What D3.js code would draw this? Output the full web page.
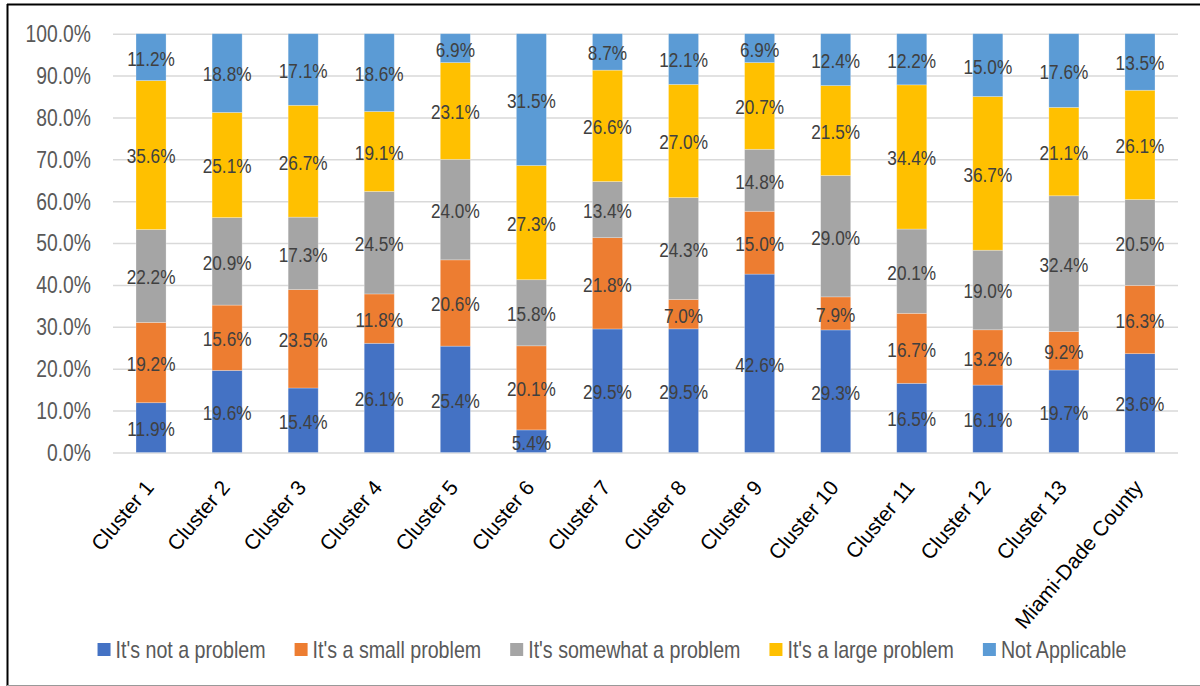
<!DOCTYPE html>
<html>
<head>
<meta charset="utf-8">
<script src="https://cdn.jsdelivr.net/npm/d3@7"></script>
<style>
  html, body { margin: 0; padding: 0; background: #fff; }
  svg { display: block; }
  text { font-family: "Liberation Sans", Arial, sans-serif; }
</style>
</head>
<body>
<svg id="chart" width="1200" height="686"></svg>
<script>
// Survey responses by cluster, percent of respondents
const categories = ["Cluster 1", "Cluster 2", "Cluster 3", "Cluster 4", "Cluster 5", "Cluster 6", "Cluster 7",
  "Cluster 8", "Cluster 9", "Cluster 10", "Cluster 11", "Cluster 12", "Cluster 13", "Miami-Dade County"];
const seriesNames = ["It's not a problem", "It's a small problem", "It's somewhat a problem", "It's a large problem", "Not Applicable"];
const notProblem   = [11.9, 19.6, 15.4, 26.1, 25.4, 5.4, 29.5, 29.5, 42.6, 29.3, 16.5, 16.1, 19.7, 23.6];
const smallProblem = [19.2, 15.6, 23.5, 11.8, 20.6, 20.1, 21.8, 7.0, 15.0, 7.9, 16.7, 13.2, 9.2, 16.3];
const somewhat     = [22.2, 20.9, 17.3, 24.5, 24.0, 15.8, 13.4, 24.3, 14.8, 29.0, 20.1, 19.0, 32.4, 20.5];
const largeProblem = [35.6, 25.1, 26.7, 19.1, 23.1, 27.3, 26.6, 27.0, 20.7, 21.5, 34.4, 36.7, 21.1, 26.1];
const notApplicable = [11.2, 18.8, 17.1, 18.6, 6.9, 31.5, 8.7, 12.1, 6.9, 12.4, 12.2, 15.0, 17.6, 13.5];
const yTicks = [0, 10, 20, 30, 40, 50, 60, 70, 80, 90, 100];
const colors = ["#4472C4", "#ED7D31", "#A5A5A5", "#FFC000", "#5B9BD5"];

const seriesValues = [notProblem, smallProblem, somewhat, largeProblem, notApplicable];
const rows = categories.map((c, i) => {
  const r = { category: c };
  seriesNames.forEach((s, k) => { r[s] = seriesValues[k][i]; });
  return r;
});

const svg = d3.select("#chart");
const W = 1200, H = 686;
const NARROW = 0.84; // horizontal squeeze for the condensed label face

// chart frame
svg.append("line").attr("x1", 7.5).attr("x2", 7.5).attr("y1", 4).attr("y2", H).attr("stroke", "#000").attr("stroke-width", 2);
svg.append("line").attr("x1", 7).attr("x2", W).attr("y1", 4.5).attr("y2", 4.5).attr("stroke", "#000").attr("stroke-width", 2);
svg.append("line").attr("x1", 7).attr("x2", W).attr("y1", 685.5).attr("y2", 685.5).attr("stroke", "#999").attr("stroke-width", 1);

const plot = { left: 113, right: 1178, top: 33.7, bottom: 452.5 };

const x = d3.scaleBand().domain(categories).range([plot.left, plot.right]).paddingInner(0.605).paddingOuter(0.3025);
const y = d3.scaleLinear().domain([0, 100]).range([plot.bottom, plot.top]);

// gridlines
const yAxis = d3.axisLeft(y).tickValues(yTicks).tickSize(-(plot.right - plot.left)).tickFormat("");
const gy = svg.append("g").attr("transform", `translate(${plot.left},0)`).call(yAxis);
gy.select(".domain").remove();
gy.selectAll(".tick line").attr("stroke", "#D9D9D9").attr("stroke-width", 1.5);

// condensed text helper: position at (px, py), squeezed horizontally
function narrowText(g, px, py, str, size, fill, anchor) {
  return g.append("text")
    .attr("transform", `translate(${px},${py}) scale(${NARROW},1)`)
    .attr("text-anchor", anchor)
    .attr("dy", "0.36em")
    .attr("font-size", size)
    .attr("fill", fill)
    .text(str);
}

// y-axis labels
const yLabels = svg.append("g");
yTicks.forEach(t => narrowText(yLabels, 91, y(t), t.toFixed(1) + "%", 23, "#595959", "end"));

// stacked bars (100% stacked)
const stack = d3.stack().keys(seriesNames).offset(d3.stackOffsetExpand);
const stacked = stack(rows);

const layers = svg.append("g").selectAll("g").data(stacked).join("g").attr("fill", (d, i) => colors[i]);
layers.selectAll("rect").data(d => d).join("rect")
  .attr("x", d => x(d.data.category))
  .attr("width", x.bandwidth())
  .attr("y", d => y(d[1] * 100))
  .attr("height", d => y(d[0] * 100) - y(d[1] * 100))
  .attr("stroke", "rgba(255,255,255,0.35)")
  .attr("stroke-width", 0.75);

// value labels centred in each segment
const labels = svg.append("g");
stacked.forEach((layer) => {
  layer.forEach(d => {
    narrowText(labels, x(d.data.category) + x.bandwidth() / 2, y((d[0] + d[1]) / 2 * 100) + 1,
      d.data[layer.key].toFixed(1) + "%", 20.5, "#404040", "middle");
  });
});

// rotated category labels
svg.append("g").selectAll("text").data(categories).join("text")
  .attr("transform", d => `translate(${x(d) + x.bandwidth() / 2 + 4},${488}) rotate(-50)`)
  .attr("text-anchor", "end")
  .attr("font-size", 21)
  .attr("fill", "#000")
  .text(d => d);

// legend
const legend = svg.append("g").attr("transform", "translate(0,650)");
const items = legend.selectAll("g").data(seriesNames).join("g");
items.append("rect").attr("width", 13).attr("height", 13).attr("y", -7).attr("fill", (d, i) => colors[i]);
items.each(function (d) { narrowText(d3.select(this), 18, 0, d, 23.4, "#595959", "start"); });
const gap = 29;
const widths = items.nodes().map(n => 18 + n.querySelector("text").getComputedTextLength() * NARROW);
const total = d3.sum(widths) + gap * (widths.length - 1);
let cx = 612 - total / 2;
items.attr("transform", (d, i) => {
  const t = `translate(${cx},0)`;
  cx += widths[i] + gap;
  return t;
});
</script>
</body>
</html>
